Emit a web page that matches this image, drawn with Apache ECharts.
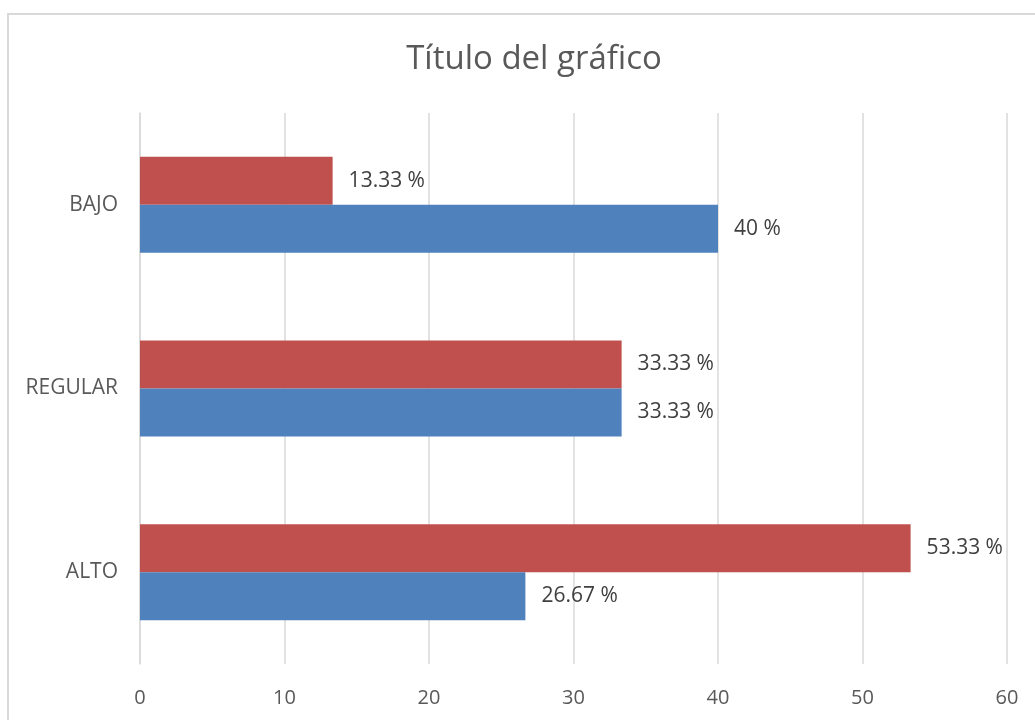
<!DOCTYPE html>
<html>
<head>
<meta charset="utf-8">
<script src="https://cdn.jsdelivr.net/npm/echarts@6/dist/echarts.min.js"></script>
<style>
  html, body { margin: 0; padding: 0; background: #fff; overflow: hidden; }
  #frame {
    position: absolute; left: 7px; top: 13px;
    width: 1100px; height: 800px;
    border: 2px solid #d9d9d9; box-sizing: border-box;
  }
  #chart { position: absolute; left: 0; top: 0; width: 1035px; height: 720px; }
</style>
</head>
<body>
<div id="frame"></div>
<div id="chart"></div>
<script>
// categorías (de abajo hacia arriba)
const categories = ['ALTO', 'REGULAR', 'BAJO'];
const serieAzul = [26.67, 33.33, 40];
const serieRoja = [53.33, 33.33, 13.33];
const xTicks = [0, 10, 20, 30, 40, 50, 60];

const chart = echarts.init(document.getElementById('chart'));

const labelStyle = {
  show: true,
  position: 'right',
  distance: 16,
  formatter: '{c} %',
  color: '#404040',
  fontSize: 21,
  fontFamily: 'Open Sans'
};

chart.setOption({
  animation: false,
  title: {
    text: 'Título del gráfico',
    left: 529,
    top: 38,
    textAlign: 'center',
    textStyle: { color: '#595959', fontSize: 33, fontWeight: 'normal', fontFamily: 'Open Sans' }
  },
  grid: { left: 140, right: 28, top: 113, bottom: 56 },
  xAxis: {
    type: 'value',
    min: xTicks[0],
    max: xTicks[xTicks.length - 1],
    interval: 10,
    axisLine: { show: false },
    axisTick: { show: false },
    axisLabel: { color: '#595959', fontSize: 20, fontFamily: 'Open Sans', margin: 24 },
    splitLine: { lineStyle: { color: '#d9d9d9', width: 1.5 } }
  },
  yAxis: {
    type: 'category',
    data: categories,
    axisLine: { show: true, lineStyle: { color: '#d9d9d9', width: 1.5 } },
    axisTick: { show: false },
    axisLabel: { color: '#595959', fontSize: 21, fontFamily: 'Open Sans', margin: 22 }
  },
  // la primera serie se dibuja arriba dentro de cada grupo
  series: [
    {
      name: 'Serie 2',
      type: 'bar',
      data: serieRoja,
      barWidth: 48,
      barGap: '0%',
      itemStyle: { color: '#c0504d' },
      label: labelStyle
    },
    {
      name: 'Serie 1',
      type: 'bar',
      data: serieAzul,
      barWidth: 48,
      barGap: '0%',
      itemStyle: { color: '#4f81bd' },
      label: labelStyle
    }
  ]
});
</script>
</body>
</html>
